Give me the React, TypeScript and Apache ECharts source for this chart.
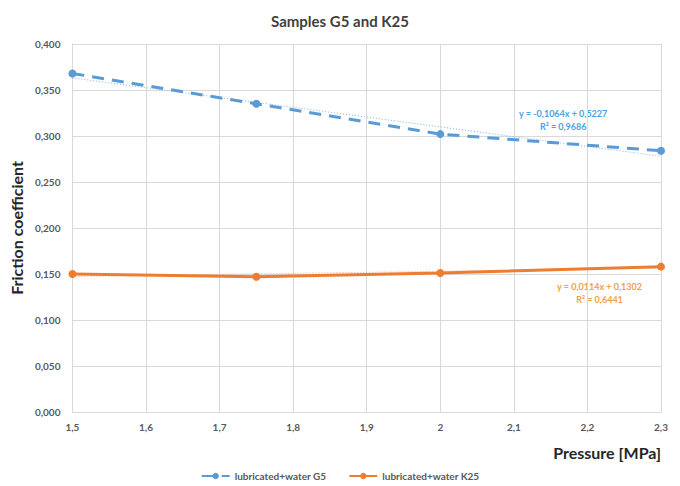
import React, { useEffect, useRef } from "react";
import * as echarts from "echarts";

const pressure = [1.5, 1.75, 2, 2.3];
const g5Values = [0.368, 0.335, 0.302, 0.284];
const k25Values = [0.15, 0.147, 0.151, 0.158];
const g5Trend = { slope: -0.1064, intercept: 0.5227, r2: "0,9686" };
const k25Trend = { slope: 0.0114, intercept: 0.1302, r2: "0,6441" };
const seriesNames = ["lubricated+water G5", "lubricated+water K25"];

const FONT = "Lato, 'Open Sans', sans-serif";
const BLUE = "#5b9bd5";
const ORANGE = "#ed7d31";

function trendPoints(t: { slope: number; intercept: number }) {
  const x0 = pressure[0];
  const x1 = pressure[pressure.length - 1];
  return [
    [x0, t.slope * x0 + t.intercept],
    [x1, t.slope * x1 + t.intercept],
  ];
}

function fmtComma(v: number, d: number) {
  return v.toFixed(d).replace(".", ",");
}

export default function App() {
  const ref = useRef<HTMLDivElement>(null);
  useEffect(() => {
    document.body.style.margin = "0";
    const chart = echarts.init(ref.current!, null, { renderer: "svg" });
    const option: any = {
      animation: false,
      backgroundColor: "#ffffff",
      textStyle: { fontFamily: FONT },
      title: {
        text: "Samples G5 and K25",
        left: "center",
        top: 8,
        textStyle: { fontFamily: FONT, fontSize: 15, fontWeight: "bold", color: "#404040" },
      },
      grid: { left: 71, right: 19, top: 44, bottom: 74, containLabel: false },
      xAxis: {
        type: "value",
        min: 1.5,
        max: 2.3,
        interval: 0.1,
        name: "Pressure [MPa]",
        nameLocation: "end",
        nameGap: 0,
        nameTextStyle: {
          fontFamily: FONT,
          fontSize: 16,
          fontWeight: "bold",
          color: "#262626",
          align: "right",
          verticalAlign: "top",
          padding: [32, 0, 0, 0],
        },
        axisLine: { show: true, lineStyle: { color: "#d9d9d9", width: 1 } },
        axisTick: { show: false },
        axisLabel: {
          fontFamily: FONT,
          fontSize: 10,
          fontWeight: "bold",
          color: "#595959",
          margin: 10,
          formatter: (v: number) => fmtComma(v, 1).replace(/,0$/, ""),
        },
        splitLine: { show: true, lineStyle: { color: "#d9d9d9", width: 1 } },
      },
      yAxis: {
        type: "value",
        min: 0,
        max: 0.4,
        interval: 0.05,
        name: "Friction coefficient",
        nameLocation: "middle",
        nameGap: 39,
        nameTextStyle: { fontFamily: FONT, fontSize: 16, fontWeight: "bold", color: "#262626" },
        axisLine: { show: true, lineStyle: { color: "#d9d9d9", width: 1 } },
        axisTick: { show: false },
        axisLabel: {
          fontFamily: FONT,
          fontSize: 10,
          fontWeight: "bold",
          color: "#595959",
          margin: 12,
          formatter: (v: number) => fmtComma(v, 3),
        },
        splitLine: { show: true, lineStyle: { color: "#d9d9d9", width: 1 } },
      },
      legend: {
        bottom: 0,
        left: "center",
        itemWidth: 28,
        itemHeight: 8,
        itemGap: 22,
        data: seriesNames,
        textStyle: { fontFamily: FONT, fontSize: 10, fontWeight: "bold", color: "#595959" },
      },
      series: [
        {
          name: "trend G5",
          type: "line",
          data: trendPoints(g5Trend),
          symbol: "none",
          lineStyle: { color: "#7fb3e0", width: 1, type: [1, 2] },
          silent: true,
          z: 1,
        },
        {
          name: "trend K25",
          type: "line",
          data: trendPoints(k25Trend),
          symbol: "none",
          lineStyle: { color: "#f4a57a", width: 1, type: [1, 2] },
          silent: true,
          z: 1,
        },
        {
          name: seriesNames[0],
          type: "line",
          data: pressure.map((p, i) => [p, g5Values[i]]),
          symbol: "circle",
          symbolSize: 8,
          itemStyle: { color: BLUE },
          lineStyle: { color: BLUE, width: 3, type: [12, 8] },
          z: 3,
        },
        {
          name: seriesNames[1],
          type: "line",
          data: pressure.map((p, i) => [p, k25Values[i]]),
          symbol: "circle",
          symbolSize: 8,
          itemStyle: { color: ORANGE },
          lineStyle: { color: ORANGE, width: 3 },
          z: 3,
        },
      ],
      graphic: [
        {
          type: "text",
          left: 519,
          top: 107,
          style: {
            text: `y = ${fmtComma(g5Trend.slope, 4)}x + ${fmtComma(g5Trend.intercept, 4)}\nR² = ${g5Trend.r2}`,
            fill: "#4ba3e3",
            font: `bold 9px ${FONT}`,
            align: "center",
            lineHeight: 13,
            textAlign: "center",
          },
        },
        {
          type: "text",
          left: 557,
          top: 280,
          style: {
            text: `y = ${fmtComma(k25Trend.slope, 4)}x + ${fmtComma(k25Trend.intercept, 4)}\nR² = ${k25Trend.r2}`,
            fill: "#f0a04b",
            font: `bold 9px ${FONT}`,
            align: "center",
            lineHeight: 13,
            textAlign: "center",
          },
        },
      ],
    };
    chart.setOption(option);
    return () => chart.dispose();
  }, []);
  return <div ref={ref} style={{ width: 680, height: 486 }} />;
}
